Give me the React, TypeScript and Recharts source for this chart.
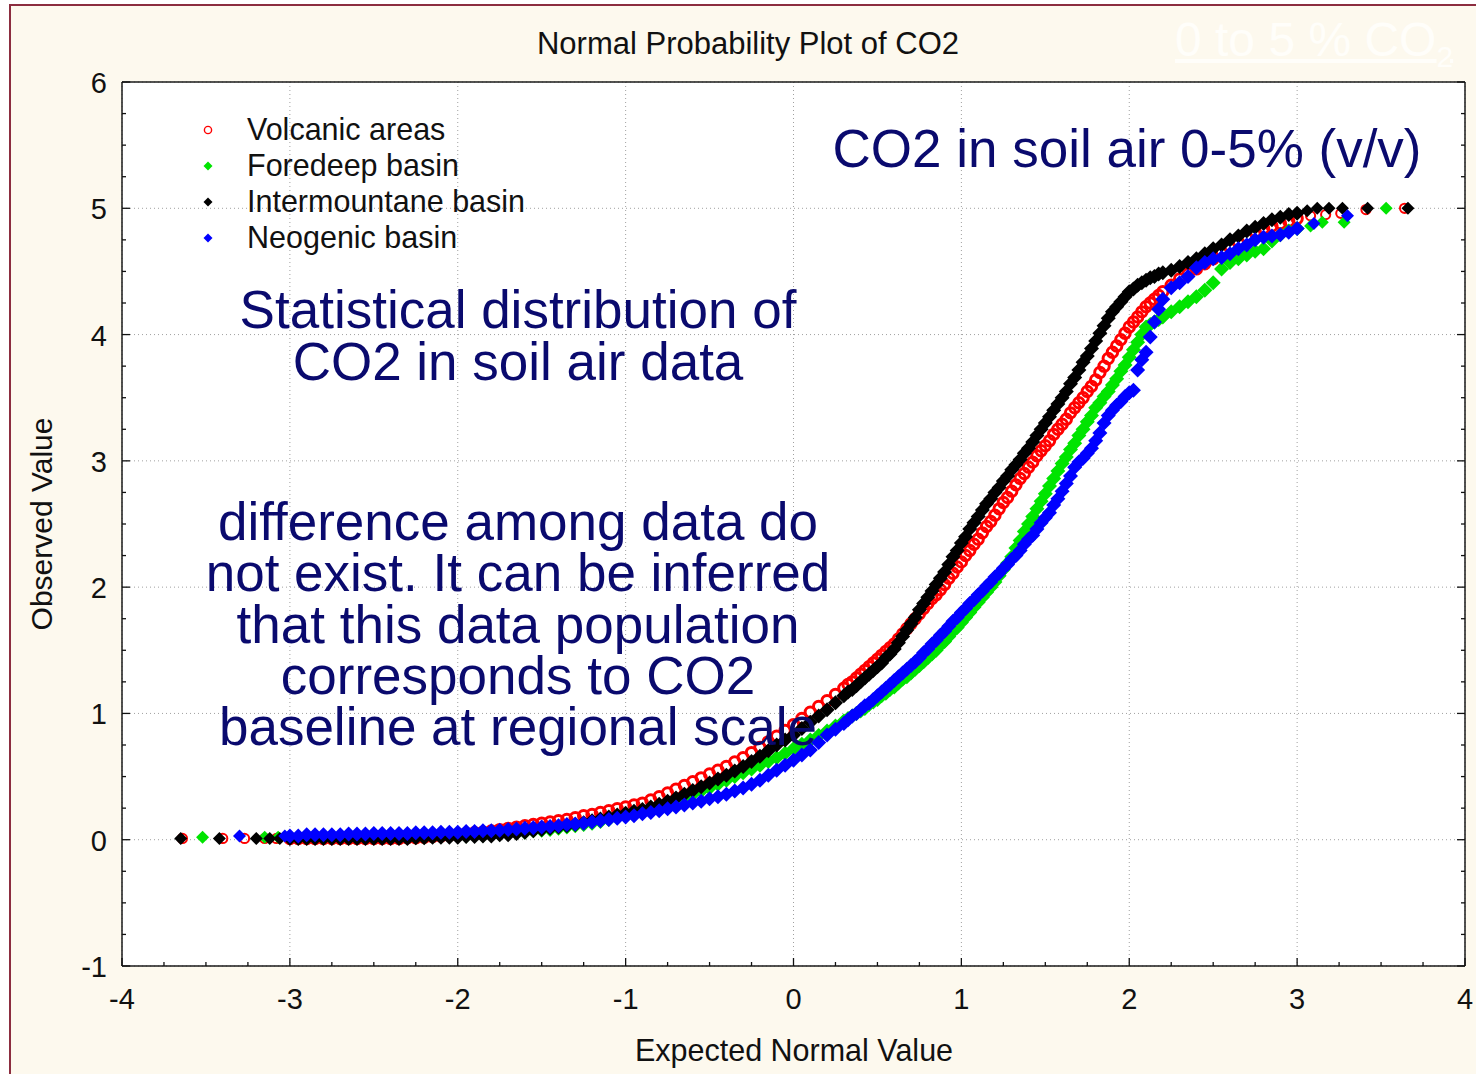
import { CartesianGrid, Scatter, ScatterChart, XAxis, YAxis } from "recharts";

const FONT = '"Liberation Sans", Arial, Helvetica, sans-serif';
const NAVY = "#0a0a6e";

// expected normal values (shared grid of the dense part of the curves)
const expectedNormalLow = [
  -3.0, -2.95, -2.9, -2.85, -2.8, -2.75, -2.7, -2.65, -2.6, -2.55,
  -2.5, -2.45, -2.4, -2.35, -2.3, -2.25, -2.2, -2.15, -2.1, -2.05,
  -2.0, -1.95, -1.9, -1.85, -1.8, -1.75, -1.7, -1.65, -1.6, -1.55,
  -1.5, -1.45, -1.4, -1.35, -1.3, -1.25, -1.2, -1.15, -1.1, -1.05,
  -1.0, -0.95, -0.9, -0.85, -0.8, -0.75, -0.7, -0.65, -0.6, -0.55,
  -0.5, -0.45, -0.4, -0.35, -0.3, -0.25, -0.2, -0.15, -0.1, -0.05,
  0.0, 0.05, 0.1, 0.15, 0.2, 0.25, 0.3
];
const expectedNormalMid = [
  0.325, 0.35, 0.375, 0.4, 0.425, 0.45, 0.475, 0.5, 0.525, 0.55,
  0.575, 0.6, 0.625, 0.65, 0.675, 0.7, 0.725, 0.75, 0.775, 0.8,
  0.825, 0.85, 0.875, 0.9, 0.925, 0.95, 0.975, 1.0, 1.025, 1.05,
  1.075, 1.1, 1.125, 1.15, 1.175, 1.2, 1.225, 1.25, 1.275, 1.3,
  1.325, 1.35, 1.375, 1.4, 1.425, 1.45, 1.475, 1.5, 1.525, 1.55,
  1.575, 1.6, 1.625, 1.65, 1.675, 1.7, 1.725, 1.75, 1.775, 1.8,
  1.825, 1.85, 1.875, 1.9, 1.925, 1.95, 1.975, 2.0, 2.025, 2.05,
  2.075, 2.1, 2.125, 2.15, 2.175, 2.2
];
const expectedNormalHigh = [
  2.25, 2.3, 2.35, 2.4, 2.45, 2.5, 2.55, 2.6, 2.65, 2.7, 2.75, 2.8, 2.85, 2.9, 2.95, 3.0
];
const expectedNormal = [...expectedNormalLow, ...expectedNormalMid, ...expectedNormalHigh];

// observed CO2 (%) for each basin at those expected normal values
const volcanicValues = [
  0.01, 0.01, 0.01, 0.01, 0.01, 0.01, 0.01, 0.01, 0.01, 0.01,
  0.01, 0.01, 0.01, 0.01, 0.015, 0.015, 0.02, 0.025, 0.03, 0.035,
  0.04, 0.05, 0.055, 0.06, 0.07, 0.08, 0.09, 0.1, 0.11, 0.12,
  0.13, 0.14, 0.15, 0.16, 0.175, 0.19, 0.2, 0.215, 0.23, 0.245,
  0.26, 0.275, 0.29, 0.315, 0.34, 0.37, 0.4, 0.43, 0.46, 0.49,
  0.52, 0.55, 0.58, 0.615, 0.65, 0.69, 0.73, 0.775, 0.82, 0.865,
  0.91, 0.96, 1.01, 1.055, 1.1, 1.15, 1.2,
  1.23, 1.25, 1.28, 1.31, 1.34, 1.37, 1.4, 1.43, 1.46, 1.49,
  1.52, 1.55, 1.59, 1.63, 1.67, 1.71, 1.75, 1.79, 1.83, 1.87,
  1.91, 1.94, 1.98, 2.02, 2.07, 2.11, 2.16, 2.2, 2.25, 2.29,
  2.34, 2.38, 2.43, 2.48, 2.52, 2.57, 2.62, 2.67, 2.71, 2.76,
  2.81, 2.86, 2.9, 2.95, 2.99, 3.04, 3.08, 3.12, 3.16, 3.21,
  3.25, 3.29, 3.33, 3.38, 3.42, 3.46, 3.5, 3.55, 3.59, 3.64,
  3.7, 3.75, 3.81, 3.86, 3.91, 3.96, 4.01, 4.06, 4.1, 4.14,
  4.18, 4.22, 4.25, 4.28, 4.31, 4.34,
  4.39, 4.44, 4.48, 4.52, 4.56, 4.6, 4.65, 4.69, 4.73, 4.77, 4.81, 4.84, 4.86, 4.88, 4.9, 4.92
];
const foredeepValues = [
  0.02, 0.02, 0.02, 0.02, 0.02, 0.02, 0.02, 0.02, 0.02, 0.02,
  0.02, 0.02, 0.02, 0.02, 0.02, 0.02, 0.02, 0.025, 0.025, 0.03,
  0.03, 0.03, 0.035, 0.035, 0.04, 0.045, 0.05, 0.055, 0.06, 0.07,
  0.075, 0.08, 0.09, 0.1, 0.11, 0.12, 0.13, 0.145, 0.16, 0.175,
  0.19, 0.205, 0.22, 0.24, 0.26, 0.285, 0.31, 0.335, 0.36, 0.385,
  0.41, 0.44, 0.47, 0.5, 0.53, 0.56, 0.59, 0.62, 0.65, 0.685,
  0.72, 0.755, 0.79, 0.825, 0.86, 0.9, 0.94,
  0.96, 0.98, 1.0, 1.02, 1.04, 1.07, 1.09, 1.11, 1.14, 1.16,
  1.19, 1.21, 1.24, 1.27, 1.29, 1.32, 1.35, 1.38, 1.41, 1.44,
  1.47, 1.5, 1.54, 1.57, 1.61, 1.65, 1.68, 1.72, 1.76, 1.8,
  1.84, 1.88, 1.92, 1.96, 2.0, 2.04, 2.09, 2.14, 2.19, 2.24,
  2.31, 2.37, 2.44, 2.5, 2.56, 2.62, 2.68, 2.74, 2.8, 2.86,
  2.92, 2.98, 3.03, 3.09, 3.14, 3.2, 3.25, 3.31, 3.36, 3.42,
  3.46, 3.51, 3.55, 3.6, 3.65, 3.71, 3.76, 3.82, 3.88, 3.94,
  4.0, 4.06, 4.08, 4.1, 4.12, 4.14,
  4.18, 4.22, 4.26, 4.3, 4.35, 4.41, 4.52, 4.57, 4.6, 4.63, 4.66, 4.68, 4.74, 4.79, 4.82, 4.84
];
const intermountaneValues = [
  0.01, 0.01, 0.01, 0.01, 0.01, 0.01, 0.01, 0.01, 0.01, 0.01,
  0.01, 0.01, 0.01, 0.01, 0.01, 0.015, 0.015, 0.02, 0.02, 0.02,
  0.02, 0.025, 0.025, 0.03, 0.03, 0.04, 0.04, 0.05, 0.06, 0.07,
  0.08, 0.09, 0.1, 0.11, 0.12, 0.135, 0.15, 0.165, 0.18, 0.195,
  0.21, 0.225, 0.24, 0.26, 0.28, 0.305, 0.33, 0.36, 0.39, 0.42,
  0.45, 0.48, 0.51, 0.545, 0.58, 0.62, 0.66, 0.705, 0.75, 0.79,
  0.83, 0.88, 0.93, 0.98, 1.03, 1.085, 1.14,
  1.17, 1.19, 1.22, 1.25, 1.28, 1.31, 1.34, 1.37, 1.4, 1.44,
  1.47, 1.51, 1.56, 1.61, 1.66, 1.71, 1.76, 1.82, 1.87, 1.92,
  1.97, 2.02, 2.07, 2.12, 2.18, 2.24, 2.29, 2.35, 2.4, 2.46,
  2.51, 2.56, 2.61, 2.66, 2.7, 2.75, 2.79, 2.84, 2.88, 2.93,
  2.97, 3.01, 3.06, 3.1, 3.15, 3.2, 3.25, 3.3, 3.35, 3.4,
  3.45, 3.5, 3.55, 3.61, 3.66, 3.72, 3.78, 3.83, 3.89, 3.95,
  4.01, 4.07, 4.13, 4.18, 4.22, 4.26, 4.3, 4.34, 4.36, 4.39,
  4.41, 4.43, 4.45, 4.46, 4.48, 4.49,
  4.51, 4.54, 4.57, 4.6, 4.64, 4.68, 4.71, 4.75, 4.78, 4.82, 4.85, 4.88, 4.91, 4.93, 4.95, 4.96
];
const neogenicValues = [
  0.03, 0.03, 0.04, 0.04, 0.04, 0.04, 0.04, 0.045, 0.045, 0.045,
  0.05, 0.05, 0.05, 0.05, 0.05, 0.055, 0.055, 0.055, 0.06, 0.06,
  0.06, 0.065, 0.065, 0.07, 0.07, 0.075, 0.08, 0.085, 0.09, 0.095,
  0.1, 0.105, 0.11, 0.12, 0.125, 0.13, 0.14, 0.15, 0.16, 0.17,
  0.18, 0.19, 0.205, 0.215, 0.23, 0.245, 0.26, 0.275, 0.29, 0.305,
  0.325, 0.34, 0.36, 0.385, 0.41, 0.44, 0.47, 0.51, 0.55, 0.59,
  0.63, 0.67, 0.71, 0.77, 0.83, 0.875, 0.92,
  0.95, 0.98, 1.0, 1.03, 1.06, 1.08, 1.11, 1.14, 1.17, 1.2,
  1.23, 1.26, 1.29, 1.32, 1.35, 1.38, 1.41, 1.44, 1.48, 1.51,
  1.55, 1.58, 1.62, 1.65, 1.69, 1.73, 1.76, 1.8, 1.83, 1.87,
  1.9, 1.94, 1.97, 2.01, 2.04, 2.08, 2.11, 2.15, 2.18, 2.22,
  2.25, 2.29, 2.34, 2.38, 2.41, 2.46, 2.51, 2.55, 2.59, 2.65,
  2.7, 2.76, 2.82, 2.88, 2.95, 2.99, 3.02, 3.06, 3.1, 3.16,
  3.22, 3.3, 3.36, 3.4, 3.44, 3.47, 3.51, 3.54, 3.56, 3.72,
  3.8, 3.86, 3.98, 4.1, 4.2, 4.28,
  4.37, 4.41, 4.46, 4.53, 4.57, 4.6, 4.61, 4.64, 4.68, 4.71, 4.75, 4.77, 4.78, 4.79, 4.81, 4.84
];

// sparse extreme points [expected normal, observed]
const volcanicTails = [
  [-3.64, 0.01], [-3.4, 0.01], [-3.27, 0.01], [-3.15, 0.01], [-3.08, 0.01],
  [3.08, 4.94], [3.17, 4.95], [3.26, 4.96], [3.41, 4.99], [3.64, 5.0]
];
const foredeepTails = [
  [-3.52, 0.02], [-3.15, 0.02], [-3.07, 0.02],
  [3.08, 4.86], [3.15, 4.89], [3.28, 4.89], [3.53, 5.0]
];
const intermountaneTails = [
  [-3.65, 0.01], [-3.42, 0.01], [-3.2, 0.01], [-3.12, 0.01], [-3.06, 0.01],
  [3.06, 4.98], [3.12, 5.0], [3.19, 5.0], [3.27, 5.0], [3.42, 5.0], [3.66, 5.0]
];
const neogenicTails = [
  [-3.3, 0.03], [-3.03, 0.03], [3.1, 4.88], [3.3, 4.94]
];

const xTicks = [
  -4, -3.75, -3.5, -3.25, -3, -2.75, -2.5, -2.25, -2, -1.75, -1.5, -1.25, -1, -0.75, -0.5, -0.25,
  0, 0.25, 0.5, 0.75, 1, 1.25, 1.5, 1.75, 2, 2.25, 2.5, 2.75, 3, 3.25, 3.5, 3.75, 4
];
const yTicks = [
  -1, -0.75, -0.5, -0.25, 0, 0.25, 0.5, 0.75, 1, 1.25, 1.5, 1.75, 2, 2.25, 2.5, 2.75,
  3, 3.25, 3.5, 3.75, 4, 4.25, 4.5, 4.75, 5, 5.25, 5.5, 5.75, 6
];
const xGridValues = [-4, -3, -2, -1, 0, 1, 2, 3, 4];
const yGridValues = [-1, 0, 1, 2, 3, 4, 5, 6];

const seriesList = [
  { name: "Volcanic areas", values: volcanicValues, tails: volcanicTails, color: "#ff0000", hollow: true },
  { name: "Foredeep basin", values: foredeepValues, tails: foredeepTails, color: "#00e400", hollow: false },
  { name: "Intermountane basin", values: intermountaneValues, tails: intermountaneTails, color: "#000000", hollow: false },
  { name: "Neogenic basin", values: neogenicValues, tails: neogenicTails, color: "#0000ff", hollow: false }
];

function buildPoints(values: number[], tails: number[][]) {
  const points = expectedNormal
    .map((x, i) => ({ x, y: values[i], dense: true }))
    .filter((p) => p.y !== undefined);
  return [...tails.map(([x, y]) => ({ x, y, dense: false })), ...points];
}

function Diamond(props: any) {
  const { cx, cy, fill, payload } = props;
  if (cx == null || cy == null) return null;
  const r = payload && payload.dense ? 7.5 : 6.5;
  return (
    <polygon
      points={`${cx},${cy - r} ${cx + r},${cy} ${cx},${cy + r} ${cx - r},${cy}`}
      fill={fill}
    />
  );
}

function Ring(props: any) {
  const { cx, cy, stroke, payload } = props;
  if (cx == null || cy == null) return null;
  const dense = payload && payload.dense;
  return (
    <circle cx={cx} cy={cy} r={dense ? 5.2 : 4.6} fill="none" stroke={stroke} strokeWidth={dense ? 3 : 2} />
  );
}

const tickText = { fontFamily: FONT, fontSize: 29, fill: "#111" };

function BottomTick(props: any) {
  const { x, y, payload } = props;
  const major = Number.isInteger(payload.value);
  return (
    <g>
      <line x1={x} x2={x} y1={y} y2={y - (major ? 8 : 4)} stroke="#111" strokeWidth={1.3} />
      {major && (
        <text x={x} y={y + 33} textAnchor="middle" dominantBaseline="central" {...tickText}>
          {String(payload.value)}
        </text>
      )}
    </g>
  );
}

function TopTick(props: any) {
  const { x, y, payload } = props;
  const major = Number.isInteger(payload.value);
  return <line x1={x} x2={x} y1={y} y2={y + (major ? 8 : 4)} stroke="#111" strokeWidth={1.3} />;
}

function LeftTick(props: any) {
  const { x, y, payload } = props;
  const major = Number.isInteger(payload.value);
  return (
    <g>
      <line x1={x} x2={x + (major ? 8 : 4)} y1={y} y2={y} stroke="#111" strokeWidth={1.3} />
      {major && (
        <text x={x - 15} y={y + 1} textAnchor="end" dominantBaseline="central" {...tickText}>
          {String(payload.value)}
        </text>
      )}
    </g>
  );
}

function RightTick(props: any) {
  const { x, y, payload } = props;
  const major = Number.isInteger(payload.value);
  return <line x1={x} x2={x - (major ? 8 : 4)} y1={y} y2={y} stroke="#111" strokeWidth={1.3} />;
}

function LegendMarker({ color, hollow }: { color: string; hollow: boolean }) {
  return (
    <svg width={14} height={14} style={{ position: "absolute", left: -7, top: -7 }}>
      {hollow ? (
        <circle cx={7} cy={7} r={3.6} fill="none" stroke={color} strokeWidth={1.4} />
      ) : (
        <polygon points="7,2.5 11.5,7 7,11.5 2.5,7" fill={color} />
      )}
    </svg>
  );
}

const abs = (style: React.CSSProperties): React.CSSProperties => ({
  position: "absolute",
  whiteSpace: "nowrap",
  fontFamily: FONT,
  lineHeight: 1,
  ...style
});

export default function App() {
  const axisLine = { stroke: "#1a1a1a", strokeWidth: 1.5 };

  return (
    <div
      style={{
        position: "absolute",
        left: 0,
        top: 0,
        width: 1476,
        height: 1074,
        background: "#ffffff",
        overflow: "hidden"
      }}
    >
      <div
        style={{
          position: "absolute",
          left: 9,
          top: 4,
          width: 1476,
          height: 1074,
          background: "#fdf9ee",
          borderLeft: "2px solid #8c2d3f",
          borderTop: "2px solid #8c2d3f"
        }}
      />

      <div style={{ position: "absolute", left: 0, top: 0 }}>
        <ScatterChart
          width={1476}
          height={1074}
          margin={{ top: 81, right: 10, bottom: 107, left: 121 }}
        >
          <CartesianGrid
            fill="#ffffff"
            stroke="#a0a0a0"
            strokeDasharray="1 3"
            verticalValues={xGridValues}
            horizontalValues={yGridValues}
          />
          <XAxis
            type="number"
            dataKey="x"
            domain={[-4, 4]}
            ticks={xTicks}
            interval={0}
            allowDataOverflow
            height={1}
            tickSize={0}
            tickMargin={0}
            tickLine={false}
            axisLine={axisLine}
            tick={(p: any) => <BottomTick {...p} />}
          />
          <XAxis
            xAxisId="top"
            orientation="top"
            type="number"
            domain={[-4, 4]}
            ticks={xTicks}
            interval={0}
            allowDataOverflow
            height={1}
            tickSize={0}
            tickMargin={0}
            tickLine={false}
            axisLine={axisLine}
            tick={(p: any) => <TopTick {...p} />}
          />
          <YAxis
            type="number"
            dataKey="y"
            domain={[-1, 6]}
            ticks={yTicks}
            interval={0}
            allowDataOverflow
            width={1}
            tickSize={0}
            tickMargin={0}
            tickLine={false}
            axisLine={axisLine}
            tick={(p: any) => <LeftTick {...p} />}
          />
          <YAxis
            yAxisId="right"
            orientation="right"
            type="number"
            domain={[-1, 6]}
            ticks={yTicks}
            interval={0}
            allowDataOverflow
            width={1}
            tickSize={0}
            tickMargin={0}
            tickLine={false}
            axisLine={axisLine}
            tick={(p: any) => <RightTick {...p} />}
          />
          {seriesList.map((s) => (
            <Scatter
              key={s.name}
              name={s.name}
              data={buildPoints(s.values, s.tails)}
              fill={s.color}
              stroke={s.color}
              isAnimationActive={false}
              shape={s.hollow ? (p: any) => <Ring {...p} stroke={s.color} /> : (p: any) => <Diamond {...p} fill={s.color} />}
            />
          ))}
        </ScatterChart>
      </div>

      <div style={abs({ left: 748, top: 43, fontSize: 31, color: "#111", transform: "translate(-50%, -50%)" })}>
        Normal Probability Plot of CO2
      </div>

      <div
        style={abs({
          left: 1175,
          top: 16,
          fontSize: 48,
          color: "#fffefa",
          textDecoration: "underline"
        })}
      >
        0 to 5 % CO<sub style={{ fontSize: 30 }}>2</sub>
      </div>

      {seriesList.map((s, i) => (
        <div key={s.name} style={{ position: "absolute", left: 208, top: 130 + i * 36 }}>
          <LegendMarker color={s.color} hollow={s.hollow} />
          <div style={abs({ left: 39, top: 0, fontSize: 30.5, color: "#111", transform: "translateY(-52%)" })}>
            {s.name}
          </div>
        </div>
      ))}

      <div style={abs({ left: 1127, top: 148, fontSize: 53, color: NAVY, transform: "translate(-50%, -50%)" })}>
        CO2 in soil air 0-5% (v/v)
      </div>

      <div
        style={abs({
          left: 518,
          top: 284,
          fontSize: 53,
          lineHeight: "52px",
          color: NAVY,
          textAlign: "center",
          transform: "translateX(-50%)"
        })}
      >
        Statistical distribution of
        <br />
        CO2 in soil air data
      </div>

      <div
        style={abs({
          left: 518,
          top: 496,
          fontSize: 53,
          lineHeight: "51.25px",
          color: NAVY,
          textAlign: "center",
          transform: "translateX(-50%)"
        })}
      >
        difference among data do
        <br />
        not exist. It can be inferred
        <br />
        that this data population
        <br />
        corresponds to CO2
        <br />
        baseline at regional scale
      </div>

      <div
        style={abs({
          left: 42,
          top: 524,
          fontSize: 30,
          color: "#111",
          transform: "translate(-50%, -50%) rotate(-90deg)"
        })}
      >
        Observed Value
      </div>

      <div style={abs({ left: 794, top: 1050, fontSize: 30.5, color: "#111", transform: "translate(-50%, -50%)" })}>
        Expected Normal Value
      </div>
    </div>
  );
}
